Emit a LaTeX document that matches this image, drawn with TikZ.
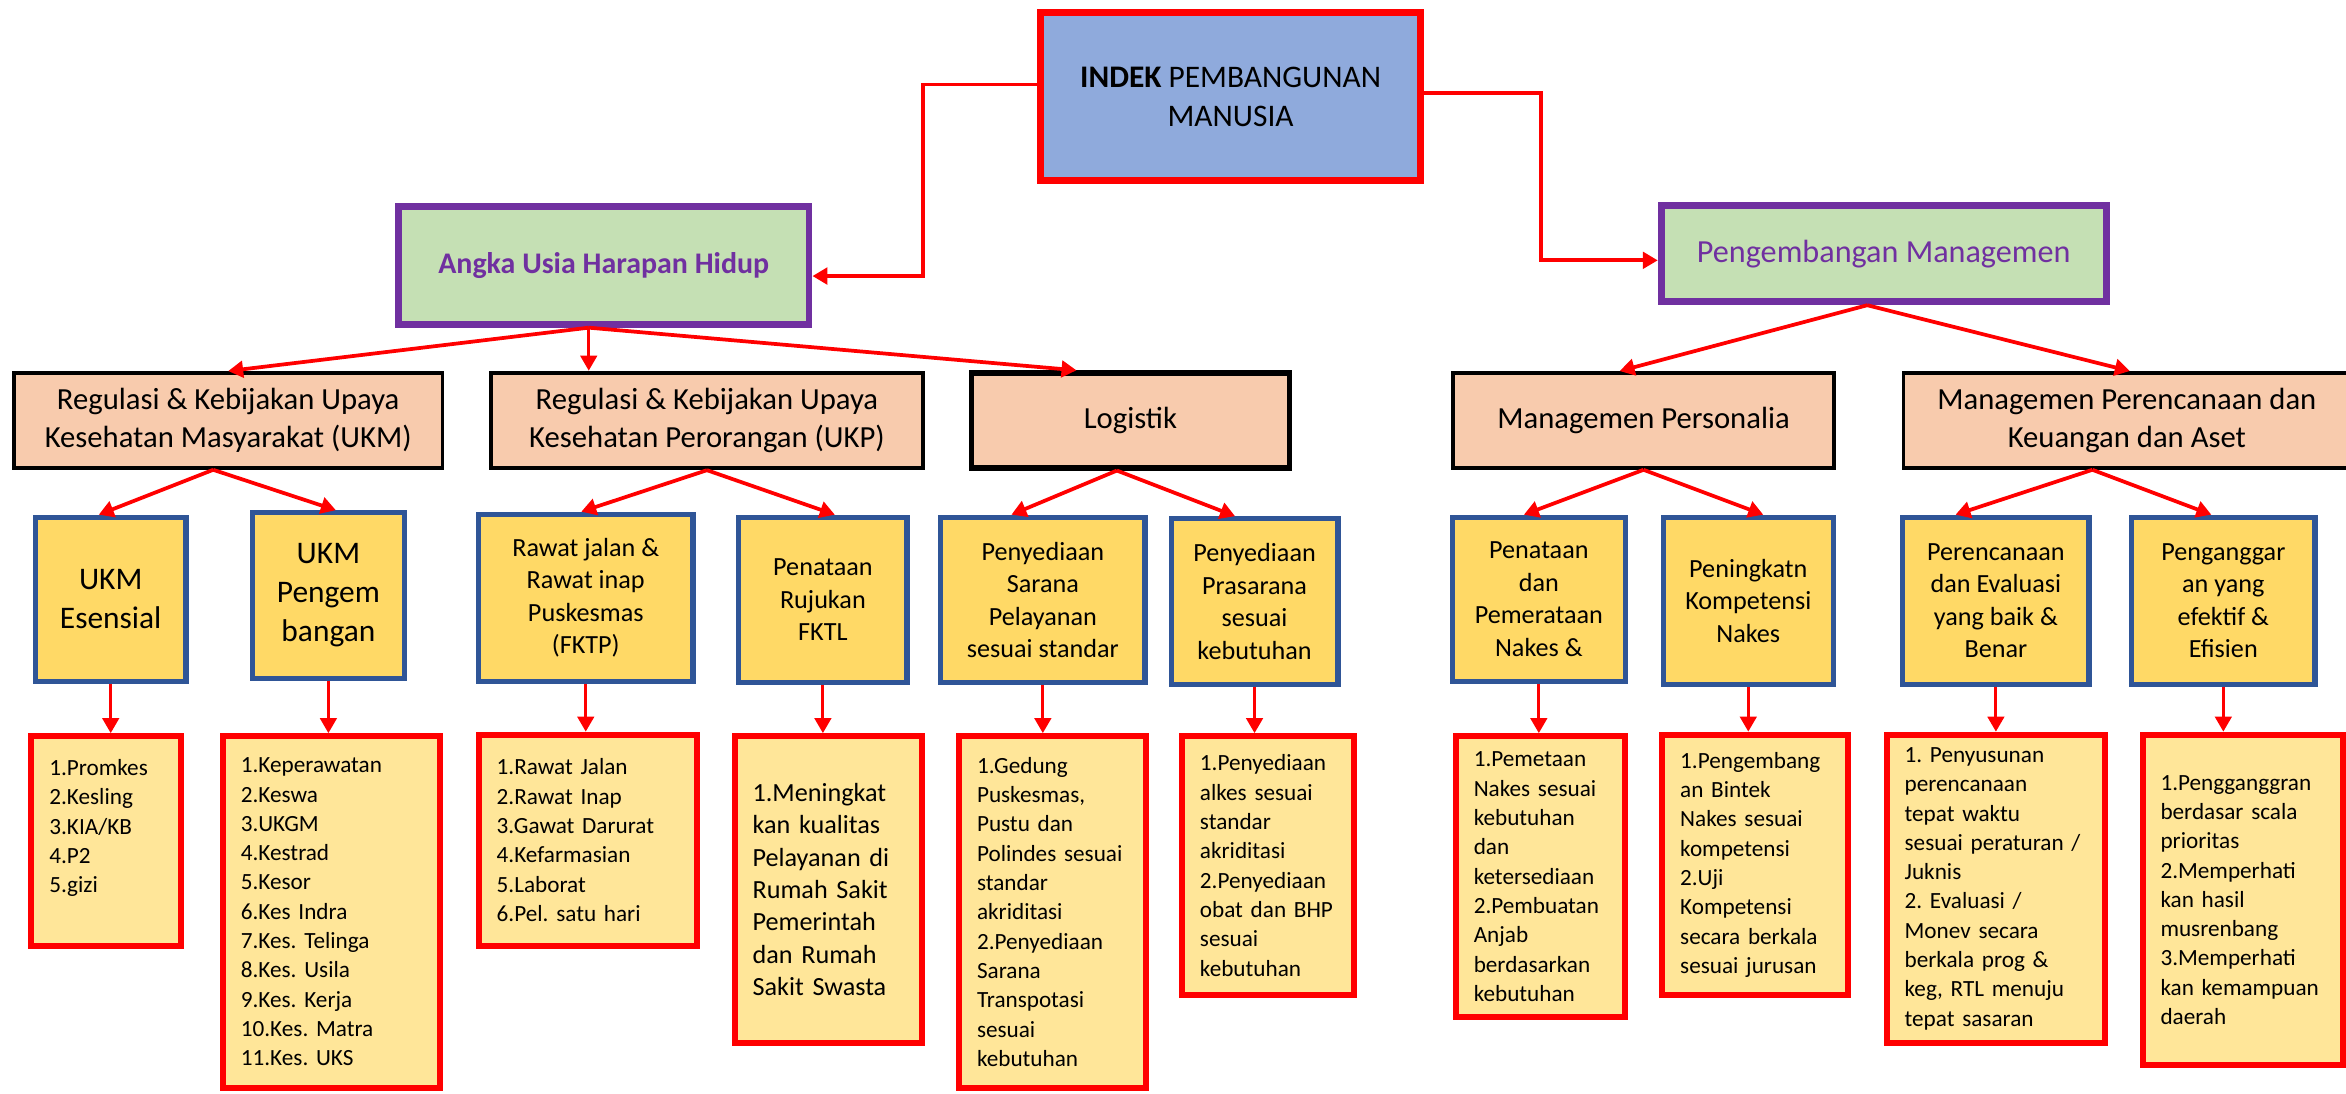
\documentclass[tikz,border=0pt]{standalone}
\usepackage{fontspec}
\setmainfont{Carlito}
\usetikzlibrary{arrows.meta}
\frenchspacing

\definecolor{ipmblue}{HTML}{8FAADC}
\definecolor{goalgreen}{HTML}{C5E0B4}
\definecolor{goalpurple}{HTML}{7030A0}
\definecolor{areapeach}{HTML}{F8CBAD}
\definecolor{proggold}{HTML}{FFD966}
\definecolor{progblue}{HTML}{2F5597}
\definecolor{listgold}{HTML}{FFE699}

\begin{document}
\begin{tikzpicture}[x=1pt, y=-1pt,
	topbox/.style={draw=red, line width=5pt, fill=ipmblue, align=center, font=\fontsize{21}{26}\selectfont},
	goalbox/.style={draw=goalpurple, line width=4.5pt, fill=goalgreen, text=goalpurple},
	areabox/.style={draw=black, line width=2.5pt, fill=areapeach, align=center, minimum height=63.5, font=\fontsize{20.5}{25}\selectfont},
	progbox/.style={draw=progblue, line width=3.5pt, fill=proggold, align=center, font=\fontsize{17.5}{21.7}\selectfont},
	listbox/.style={draw=red, line width=4pt, fill=listgold, align=left, inner xsep=12pt, font=\fontsize{15.5}{19.6}\selectfont},
	link/.style={draw=red, line width=2.5pt, -{Triangle[length=10pt,width=11pt]}},
	vlink/.style={draw=red, line width=2pt, -{Triangle[length=10pt,width=11pt]}}]
	\useasboundingbox (0,0) rectangle (1568,731);

	% top
	\node[topbox, minimum width=254, minimum height=112] (indek) at (822.5,64.5) {\textbf{INDEK} PEMBANGUNAN\\MANUSIA};
	\node[goalbox, minimum width=274.5, minimum height=78.5, font=\fontsize{20}{24}\selectfont\bfseries] (angka) at (403.5,177.5) {Angka Usia Harapan Hidup};
	\node[goalbox, minimum width=297.5, minimum height=64.5, font=\fontsize{21.5}{25}\selectfont] (peng) at (1259,169.5) {Pengembangan Managemen};

	% second row
	\node[areabox, minimum width=286.5] (regukm) at (152.5,281) {Regulasi \& Kebijakan Upaya\\Kesehatan Masyarakat (UKM)};
	\node[areabox, minimum width=288.5, line width=3pt] (regukp) at (472.5,281) {Regulasi \& Kebijakan Upaya\\Kesehatan Perorangan (UKP)};
	\node[areabox, minimum width=212.5, line width=3.5pt] (logistik) at (755.5,281) {Logistik};
	\node[areabox, minimum width=254.5] (personalia) at (1098.5,281) {Managemen Personalia};
	\node[areabox, minimum width=298.5] (perenc) at (1421.5,281) {Managemen Perencanaan dan\\Keuangan dan Aset};

	% programmes
	\node[progbox, minimum width=100.5, minimum height=109.5, font=\fontsize{21}{26}\selectfont] (esensial) at (74,400.5) {UKM\\Esensial};
	\node[progbox, minimum width=101.5, minimum height=110.5, font=\fontsize{21}{26}\selectfont] (pengem) at (219.5,398) {UKM\\Pengem\\bangan};
	\node[progbox, minimum width=143.5, minimum height=111.5] (rawat) at (391.5,399.5) {Rawat jalan \&\\Rawat inap\\Puskesmas\\(FKTP)};
	\node[progbox, minimum width=112.5, minimum height=110.5] (rujukan) at (550,401) {Penataan\\Rujukan\\FKTL};
	\node[progbox, minimum width=136.5, minimum height=110.5] (sarana) at (697,401) {Penyediaan\\Sarana\\Pelayanan\\sesuai standar};
	\node[progbox, minimum width=111.5, minimum height=110.5] (prasarana) at (838.5,402) {Penyediaan\\Prasarana\\sesuai\\kebutuhan};
	\node[progbox, minimum width=115.5, minimum height=109.5] (penataan) at (1028.5,400.5) {Penataan\\dan\\Pemerataan\\Nakes \&};
	\node[progbox, minimum width=113.5, minimum height=111.5] (peningkatn) at (1168.5,401.5) {Peningkatn\\Kompetensi\\Nakes};
	\node[progbox, minimum width=124.5, minimum height=111.5] (evaluasi) at (1334,401.5) {Perencanaan\\dan Evaluasi\\yang baik \&\\Benar};
	\node[progbox, minimum width=122.5, minimum height=111.5] (anggar) at (1486,401.5) {Penganggar\\an yang\\efektif \&\\Efisien};

	% lists
	\node[listbox, text width=76pt, minimum height=140] (promkes) at (71,562) {1.Promkes\\2.Kesling\\3.KIA/KB\\4.P2\\5.gizi\\\mbox{}};
	\node[listbox, text width=121pt, minimum height=235] (keperawatan) at (221.5,609.5) {1.Keperawatan\\2.Keswa\\3.UKGM\\4.Kestrad\\5.Kesor\\6.Kes Indra\\7.Kes. Telinga\\8.Kes. Usila\\9.Kes. Kerja\\10.Kes. Matra\\11.Kes. UKS};
	\node[listbox, text width=122pt, minimum height=141] (rawatlist) at (393,561.5) {1.Rawat Jalan\\2.Rawat Inap\\3.Gawat Darurat\\4.Kefarmasian\\5.Laborat\\6.Pel. satu hari};
	\node[listbox, text width=101pt, minimum height=205, font=\fontsize{17.5}{21.7}\selectfont] (meningkat) at (553.5,594.5) {1.Meningkat\\kan kualitas\\Pelayanan di\\Rumah Sakit\\Pemerintah\\dan Rumah\\Sakit Swasta};
	\node[listbox, text width=101pt, minimum height=235] (gedung) at (703.5,609.5) {1.Gedung\\Puskesmas,\\Pustu dan\\Polindes sesuai\\standar\\akriditasi\\2.Penyediaan\\Sarana\\Transpotasi\\sesuai\\kebutuhan};
	\node[listbox, text width=91pt, minimum height=173] (alkes) at (847.5,578.5) {1.Penyediaan\\alkes sesuai\\standar\\akriditasi\\2.Penyediaan\\obat dan BHP\\sesuai\\kebutuhan};
	\node[listbox, text width=89pt, minimum height=188] (pemetaan) at (1029.5,586) {1.Pemetaan\\Nakes sesuai\\kebutuhan\\dan\\ketersediaan\\2.Pembuatan\\Anjab\\berdasarkan\\kebutuhan};
	\node[listbox, text width=100pt, minimum height=174] (bintek) at (1173,578) {1.Pengembang\\an Bintek\\Nakes sesuai\\kompetensi\\2.Uji\\Kompetensi\\secara berkala\\sesuai jurusan};
	\node[listbox, text width=122pt, minimum height=206] (penyusunan) at (1334,594) {1. Penyusunan\\perencanaan\\tepat waktu\\sesuai peraturan /\\Juknis\\2. Evaluasi /\\Monev secara\\berkala prog \&\\keg, RTL menuju\\tepat sasaran};
	\node[listbox, text width=110pt, minimum height=221] (gganggran) at (1499,601.5) {1.Pengganggran\\berdasar scala\\prioritas\\2.Memperhati\\kan hasil\\musrenbang\\3.Memperhati\\kan kemampuan\\daerah};

	% connectors
	\draw[link] ([yshift=8pt]indek.west) -| ([xshift=74pt,yshift=-7pt]angka.east) -- ([yshift=-7pt]angka.east);
	\draw[link] ([yshift=2.5pt]indek.east) -| ([xshift=-78pt,yshift=-4.5pt]peng.west) -- ([yshift=-4.5pt]peng.west);

	\draw[link] ([xshift=-10pt]angka.south) -- (regukm.north);
	\draw[vlink] ([xshift=-10pt]angka.south) -- ([xshift=-10pt]angka.south |- regukp.north);
	\draw[link] ([xshift=-10pt]angka.south) -- ([xshift=-36pt]logistik.north);
	\draw[link] ([xshift=-11pt]peng.south) -- ([xshift=-16pt]personalia.north);
	\draw[link] ([xshift=-11pt]peng.south) -- ([xshift=2pt]perenc.north);

	\draw[link] ([xshift=-10pt]regukm.south) -- ([xshift=-8pt]esensial.north);
	\draw[link] ([xshift=-10pt]regukm.south) -- ([xshift=5pt]pengem.north);
	\draw[link] (regukp.south) -- ([xshift=-3pt]rawat.north);
	\draw[link] (regukp.south) -- ([xshift=8pt]rujukan.north);
	\draw[link] ([xshift=-9pt]logistik.south) -- ([xshift=-21pt]sarana.north);
	\draw[link] ([xshift=-9pt]logistik.south) -- ([xshift=-13pt]prasarana.north);
	\draw[link] (personalia.south) -- ([xshift=-10pt]penataan.north);
	\draw[link] (personalia.south) -- ([xshift=10pt]peningkatn.north);
	\draw[link] ([xshift=-23pt]perenc.south) -- ([xshift=-27pt]evaluasi.north);
	\draw[link] ([xshift=-23pt]perenc.south) -- ([xshift=-8pt]anggar.north);

	\foreach \a/\b in {esensial/promkes, pengem/keperawatan, rawat/rawatlist, rujukan/meningkat, sarana/gedung, prasarana/alkes, penataan/pemetaan, peningkatn/bintek, evaluasi/penyusunan, anggar/gganggran}
		\draw[vlink] (\a.south) -- (\a.south |- \b.north);
\end{tikzpicture}
\end{document}
